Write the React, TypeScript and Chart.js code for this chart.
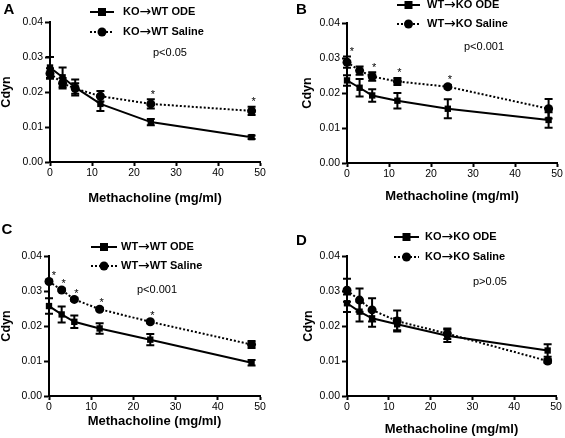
import React, { useEffect, useRef } from "react";
import { Chart, registerables } from "chart.js";

Chart.register(...registerables);

const FONT = "'Liberation Sans', Arial, Helvetica, sans-serif";
const ARROW_FONT = "'DejaVu Sans', sans-serif";
Chart.defaults.font.family = FONT;
Chart.defaults.color = "#000";

// ---------- data ----------
const doses = [0, 3, 6, 12, 24, 48];
const xTickValues = [0, 10, 20, 30, 40, 50];
const yTickValues = [0, 0.01, 0.02, 0.03, 0.04];
const xAxisTitle = "Methacholine (mg/ml)";
const yAxisTitle = "Cdyn";

const panelLetters = ["A", "B", "C", "D"];
const odeLabels = ["KO→WT ODE", "WT→KO ODE", "WT→WT ODE", "KO→KO ODE"];
const salineLabels = ["KO→WT Saline", "WT→KO Saline", "WT→WT Saline", "KO→KO Saline"];
const pValueTexts = ["p<0.05", "p<0.001", "p<0.001", "p>0.05"];

// Panel A
const aOde = [0.027, 0.0242, 0.0213, 0.0166, 0.0114, 0.0071];
const aOdeErr = [0.003, 0.0028, 0.0023, 0.002, 0.0009, 0.0005];
const aSaline = [0.0253, 0.0225, 0.021, 0.0188, 0.0166, 0.0146];
const aSalineErr = [0.0015, 0.0015, 0.0015, 0.0015, 0.0013, 0.0012];
const aStars = [24, 48];

// Panel B
const bOde = [0.0236, 0.0215, 0.0193, 0.0178, 0.0155, 0.0123];
const bOdeErr = [0.0015, 0.0025, 0.0018, 0.0022, 0.0027, 0.0022];
const bSaline = [0.0288, 0.0264, 0.0247, 0.0233, 0.0218, 0.0155];
const bSalineErr = [0.0016, 0.0012, 0.0012, 0.001, 0.0005, 0.0028];
const bStars = [0, 6, 12, 24];

// Panel C
const cOde = [0.0257, 0.0233, 0.0212, 0.0193, 0.0161, 0.0095];
const cOdeErr = [0.0022, 0.0023, 0.0018, 0.0015, 0.0016, 0.0008];
const cSaline = [0.0327, 0.0303, 0.0276, 0.0248, 0.0212, 0.0147];
const cSalineErr = [0.0004, 0.0004, 0.0004, 0.0004, 0.0004, 0.001];
const cStars = [0, 3, 6, 12, 24];

// Panel D
const dOde = [0.0265, 0.0241, 0.0222, 0.0205, 0.0172, 0.013];
const dOdeErr = [0.0025, 0.0028, 0.0024, 0.0017, 0.0018, 0.0018];
const dSaline = [0.0302, 0.0274, 0.0246, 0.0214, 0.0178, 0.01];
const dSalineErr = [0.0033, 0.0033, 0.0033, 0.003, 0.0015, 0.0006];
const dStars: number[] = [];

// ---------- layout (pixels) ----------
type Layout = {
  box: { left: number; top: number; width: number; height: number };
  plot: { l: number; r: number; t: number; b: number };
  yTitleCenter: number;
  xTitleCenter: number;
  legend: { sx0: number; sx1: number; tx: number; y1: number; y2: number };
  pPos: { x: number; y: number };
  letterPos: { x: number; y: number };
};

const layouts: Layout[] = [
  {
    box: { left: 0, top: 0, width: 282, height: 219 },
    plot: { l: 50, r: 260, t: 22, b: 162 },
    yTitleCenter: 5.5,
    xTitleCenter: 197,
    legend: { sx0: 90, sx1: 114, tx: 123, y1: 12, y2: 32 },
    pPos: { x: 153, y: 53 },
    letterPos: { x: 9, y: 10 },
  },
  {
    box: { left: 282, top: 0, width: 283, height: 219 },
    plot: { l: 65, r: 275, t: 23, b: 163 },
    yTitleCenter: 26,
    xTitleCenter: 195,
    legend: { sx0: 115, sx1: 138, tx: 145, y1: 5, y2: 24 },
    pPos: { x: 182, y: 47 },
    letterPos: { x: 19.5, y: 10 },
  },
  {
    box: { left: 0, top: 219, width: 282, height: 219 },
    plot: { l: 49, r: 260, t: 37, b: 177 },
    yTitleCenter: 5.5,
    xTitleCenter: 201,
    legend: { sx0: 91, sx1: 117, tx: 121, y1: 28, y2: 47 },
    pPos: { x: 137, y: 71 },
    letterPos: { x: 7, y: 11 },
  },
  {
    box: { left: 282, top: 219, width: 283, height: 219 },
    plot: { l: 65, r: 274, t: 37, b: 177 },
    yTitleCenter: 26.5,
    xTitleCenter: 209,
    legend: { sx0: 112, sx1: 137, tx: 143, y1: 18, y2: 38 },
    pPos: { x: 191, y: 63 },
    letterPos: { x: 19.5, y: 22 },
  },
];

type PanelData = {
  ode: number[];
  odeErr: number[];
  saline: number[];
  salineErr: number[];
  stars: number[];
};

const panelData: PanelData[] = [
  { ode: aOde, odeErr: aOdeErr, saline: aSaline, salineErr: aSalineErr, stars: aStars },
  { ode: bOde, odeErr: bOdeErr, saline: bSaline, salineErr: bSalineErr, stars: bStars },
  { ode: cOde, odeErr: cOdeErr, saline: cSaline, salineErr: cSalineErr, stars: cStars },
  { ode: dOde, odeErr: dOdeErr, saline: dSaline, salineErr: dSalineErr, stars: dStars },
];

function drawLegendText(ctx: CanvasRenderingContext2D, text: string, x: number, y: number) {
  const parts = text.split("→");
  const textFont = `bold 11px ${FONT}`;
  const arrowFont = `14px ${ARROW_FONT}`;
  ctx.textAlign = "left";
  ctx.textBaseline = "middle";
  let cx = x;
  parts.forEach((p, i) => {
    ctx.font = textFont;
    ctx.fillText(p, cx, y);
    cx += ctx.measureText(p).width;
    if (i < parts.length - 1) {
      ctx.font = arrowFont;
      ctx.fillText("→", cx, y);
      cx += ctx.measureText("→").width;
    }
  });
}

function PanelChart({ index }: { index: number }) {
  const ref = useRef<HTMLCanvasElement>(null);

  useEffect(() => {
    const canvas = ref.current;
    if (!canvas) return;
    const lay = layouts[index];
    const data = panelData[index];
    const { plot, box } = lay;

    const yTitleSize = 12.5;
    const xTitleSize = 13;
    const tickSize = 10.5;
    const padLeft = Math.max(0, lay.yTitleCenter - yTitleSize / 2);
    const yWidth = plot.l - padLeft;
    const xHeight = box.height - plot.b;
    const xTitlePadBottom = Math.max(0, box.height - lay.xTitleCenter - xTitleSize / 2 - 3);

    const overlay = {
      id: "overlay" + index,
      afterDatasetsDraw(chart: any) {
        const ctx = chart.ctx as CanvasRenderingContext2D;
        const xs = chart.scales.x;
        const ys = chart.scales.y;
        ctx.save();
        ctx.strokeStyle = "#000";
        ctx.lineWidth = 2;
        ctx.setLineDash([]);
        const series: [number[], number[]][] = [
          [data.ode, data.odeErr],
          [data.saline, data.salineErr],
        ];
        series.forEach(([m, e]) => {
          doses.forEach((d, i) => {
            const x = xs.getPixelForValue(d);
            const yt = ys.getPixelForValue(m[i] + e[i]);
            const yb = ys.getPixelForValue(m[i] - e[i]);
            ctx.beginPath();
            ctx.moveTo(x, yt);
            ctx.lineTo(x, yb);
            ctx.moveTo(x - 4, yt);
            ctx.lineTo(x + 4, yt);
            ctx.moveTo(x - 4, yb);
            ctx.lineTo(x + 4, yb);
            ctx.stroke();
          });
        });
        // significance stars
        ctx.fillStyle = "#000";
        ctx.font = `11px ${FONT}`;
        ctx.textAlign = "center";
        ctx.textBaseline = "alphabetic";
        data.stars.forEach((d) => {
          const i = doses.indexOf(d);
          const top = ys.getPixelForValue(data.saline[i] + data.salineErr[i]);
          const x = xs.getPixelForValue(d) + (d === 0 ? 5 : 2);
          ctx.fillText("*", x, top - 1.5);
        });
        ctx.restore();
      },
      afterDraw(chart: any) {
        const ctx = chart.ctx as CanvasRenderingContext2D;
        ctx.save();
        ctx.fillStyle = "#000";
        ctx.strokeStyle = "#000";
        // panel letter
        ctx.font = `bold 15px ${FONT}`;
        ctx.textAlign = "center";
        ctx.textBaseline = "middle";
        ctx.fillText(panelLetters[index], lay.letterPos.x, lay.letterPos.y);
        // p value
        ctx.font = `11px ${FONT}`;
        ctx.textAlign = "left";
        ctx.fillText(pValueTexts[index], lay.pPos.x, lay.pPos.y);
        // legend
        const lg = lay.legend;
        const rows: [number, string, boolean][] = [
          [lg.y1, odeLabels[index], false],
          [lg.y2, salineLabels[index], true],
        ];
        rows.forEach(([y, text, dashed]) => {
          ctx.lineWidth = 2;
          ctx.setLineDash(dashed ? [2, 2] : []);
          ctx.beginPath();
          ctx.moveTo(lg.sx0, y);
          ctx.lineTo(lg.sx1, y);
          ctx.stroke();
          ctx.setLineDash([]);
          const cx = (lg.sx0 + lg.sx1) / 2;
          if (dashed) {
            ctx.beginPath();
            ctx.arc(cx, y, 4.5, 0, Math.PI * 2);
            ctx.fill();
          } else {
            ctx.fillRect(cx - 4, y - 4, 8, 8);
          }
          drawLegendText(ctx, text, lg.tx, y);
        });
        ctx.restore();
      },
    };

    const chart = new Chart(canvas, {
      type: "line",
      data: {
        datasets: [
          {
            label: odeLabels[index],
            data: doses.map((d, i) => ({ x: d, y: data.ode[i] })),
            borderColor: "#000",
            backgroundColor: "#000",
            borderWidth: 2,
            pointStyle: "rect",
            pointRadius: 4.5,
            pointBorderWidth: 0,
            pointBackgroundColor: "#000",
            tension: 0,
            clip: false as any,
          },
          {
            label: salineLabels[index],
            data: doses.map((d, i) => ({ x: d, y: data.saline[i] })),
            borderColor: "#000",
            backgroundColor: "#000",
            borderWidth: 2,
            borderDash: [2, 2],
            pointStyle: "circle",
            pointRadius: 4.5,
            pointBorderWidth: 0,
            pointBackgroundColor: "#000",
            tension: 0,
            clip: false as any,
          },
        ],
      },
      options: {
        responsive: false,
        maintainAspectRatio: false,
        devicePixelRatio: 1,
        animation: false,
        layout: {
          padding: {
            left: padLeft,
            right: box.width - plot.r,
            top: plot.t,
            bottom: 0,
          },
        },
        plugins: {
          legend: { display: false },
          tooltip: { enabled: false },
        },
        scales: {
          x: {
            type: "linear",
            min: 0,
            max: 50,
            afterBuildTicks: (s: any) => {
              s.ticks = xTickValues.map((v) => ({ value: v }));
            },
            afterFit: (s: any) => {
              s.height = xHeight;
            },
            border: { display: true, color: "#000", width: 2 },
            grid: {
              drawOnChartArea: false,
              drawTicks: true,
              tickLength: 4,
              tickWidth: 2,
              tickColor: "#000",
              color: "#000",
            },
            ticks: {
              font: { size: tickSize },
              color: "#000",
              padding: 1,
              maxRotation: 0,
              autoSkip: false,
            },
            title: {
              display: true,
              text: xAxisTitle,
              font: { size: xTitleSize, weight: "bold" },
              color: "#000",
              padding: { top: 0, bottom: xTitlePadBottom },
            },
          },
          y: {
            type: "linear",
            min: 0,
            max: 0.04,
            afterBuildTicks: (s: any) => {
              s.ticks = yTickValues.map((v) => ({ value: v }));
            },
            afterFit: (s: any) => {
              s.width = yWidth;
            },
            border: { display: true, color: "#000", width: 2 },
            grid: {
              drawOnChartArea: false,
              drawTicks: true,
              tickLength: 5,
              tickWidth: 2,
              tickColor: "#000",
              color: "#000",
            },
            ticks: {
              font: { size: tickSize },
              color: "#000",
              padding: 2,
              callback: (v: any) => Number(v).toFixed(2),
            },
            title: {
              display: true,
              text: yAxisTitle,
              font: { size: yTitleSize, weight: "bold", lineHeight: 1 },
              color: "#000",
              padding: { top: 0, bottom: 0 },
            },
          },
        },
      } as any,
      plugins: [overlay as any],
    });

    return () => {
      chart.destroy();
    };
  }, [index]);

  const b = layouts[index].box;
  return (
    <canvas
      ref={ref}
      width={b.width}
      height={b.height}
      style={{
        position: "absolute",
        left: b.left,
        top: b.top,
        width: b.width,
        height: b.height,
      }}
    />
  );
}

export default function App() {
  return (
    <div
      style={{
        position: "absolute",
        left: 0,
        top: 0,
        width: 565,
        height: 438,
        background: "#fff",
        overflow: "hidden",
      }}
    >
      {[0, 1, 2, 3].map((i) => (
        <PanelChart key={i} index={i} />
      ))}
    </div>
  );
}
